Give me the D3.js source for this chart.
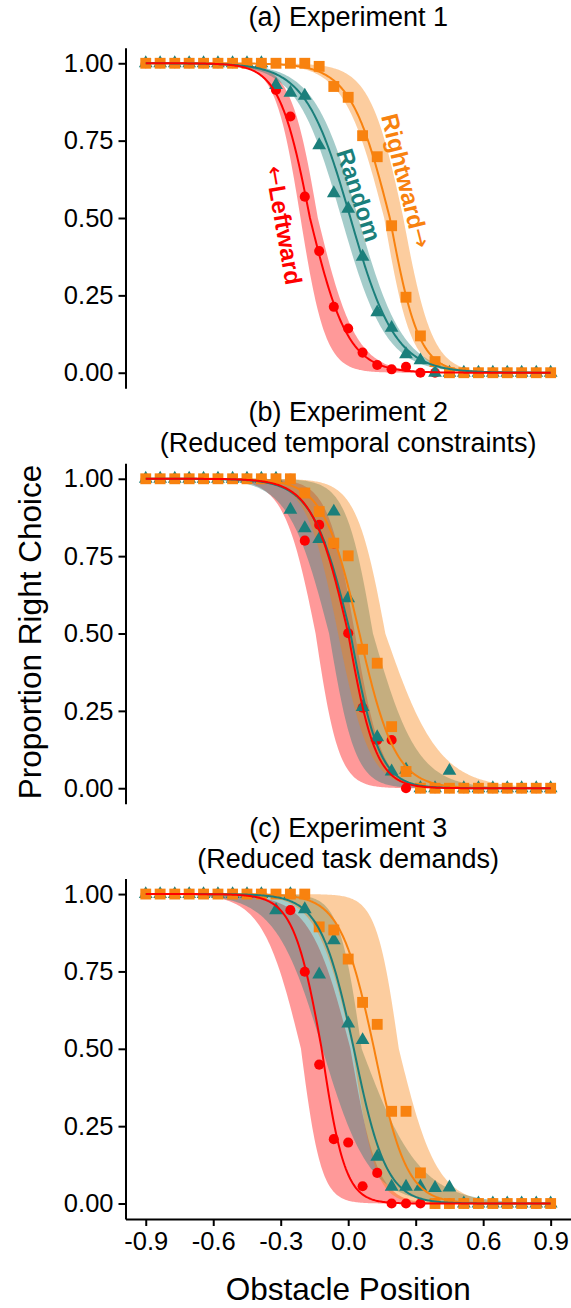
<!DOCTYPE html>
<html><head><meta charset="utf-8">
<script src="https://cdn.jsdelivr.net/npm/d3@7"></script>
<style>
body{margin:0;background:#fff}
svg{display:block}
text{font-family:"Liberation Sans",Arial,sans-serif;fill:#000}
</style>
</head><body><svg id="chart" width="571" height="1308"></svg>
<script>
// ---------- data ----------
const obstaclePositions = [-0.9,-0.836,-0.771,-0.707,-0.643,-0.579,-0.514,-0.45,-0.386,-0.321,-0.257,-0.193,-0.129,-0.064,0,0.064,0.129,0.193,0.257,0.321,0.386,0.45,0.514,0.579,0.643,0.707,0.771,0.836,0.9];
const conditions = ["Leftward","Random","Rightward"];
const panelTitles = [["(a) Experiment 1"],["(b) Experiment 2","(Reduced temporal constraints)"],["(c) Experiment 3","(Reduced task demands)"]];
const xTicks = [-0.9,-0.6,-0.3,0,0.3,0.6,0.9];
const yTicks = [0,0.25,0.5,0.75,1];

// observed proportions (per experiment, per condition)
const exp1Leftward  = [1,1,1,1,1,1,1,1,1,0.914,0.828,0.569,0.393,0.213,0.143,0.065,0.025,0.011,0.019,0,0,0,0,0,0,0,0,0,0];
const exp1Random    = [1,1,1,1,1,1,1,1,1,0.93,0.905,0.895,0.735,0.58,0.53,0.375,0.195,0.145,0.06,0.04,0,0,0,0,0,0,0,0,0];
const exp1Rightward = [1,1,1,1,1,1,1,1,1,1,1,1,0.99,0.925,0.89,0.766,0.698,0.475,0.244,0.119,0.036,0,0,0,0,0,0,0,0];
const exp2Leftward  = [1,1,1,1,1,1,1,1,1,1,1,0.80,0.851,0.79,0.501,0.26,0.156,0.156,0,0,0,0,0,0,0,0,0,0,0];
const exp2Random    = [1,1,1,1,1,1,1,1,1,1,0.90,0.84,0.805,0.894,0.614,0.262,0.165,0.054,0.06,0,0,0.056,0,0,0,0,0,0,0];
const exp2Rightward = [1,1,1,1,1,1,1,1,1,1,1,0.954,0.894,0.792,0.751,0.449,0.404,0.199,0.054,0,0,0,0,0,0,0,0,0,0];
const exp3Leftward  = [1,1,1,1,1,1,1,1,1,1,0.948,0.749,0.449,0.208,0.197,0.056,0.099,0,0,0,0,0,0,0,0,0,0,0,0];
const exp3Random    = [1,1,1,1,1,1,1,1,1,0.948,1,0.951,0.74,0.851,0.582,0.528,0.151,0.054,0.054,0.054,0.05,0.052,0,0,0,0,0,0,0];
const exp3Rightward = [1,1,1,1,1,1,1,1,1,1,1,1,0.894,0.884,0.79,0.65,0.579,0.298,0.298,0.099,0,0,0,0,0,0,0,0,0];

// fitted psychometric curves: [midpoint, scale above midpoint, scale below midpoint], one row per experiment
const fitLeftward  = [[-0.17,0.068,0.085],[0.0,0.08,0.062],[-0.118,0.063,0.052]];
const fitRandom    = [[0.01,0.1,0.1],[0.01,0.085,0.065],[0.025,0.075,0.072]];
const fitRightward = [[0.185,0.088,0.065],[0.05,0.08,0.08],[0.115,0.075,0.072]];
// confidence band edges
const bandLowLeftward   = [[-0.212,0.056,0.056],[-0.145,0.07,0.052],[-0.21,0.085,0.045]];
const bandHighLeftward  = [[-0.135,0.06,0.085],[0.03,0.06,0.06],[0.01,0.09,0.06]];
const bandLowRandom     = [[-0.03,0.1,0.1],[-0.085,0.09,0.058],[-0.115,0.105,0.105]];
const bandHighRandom    = [[0.045,0.1,0.1],[0.11,0.06,0.1],[0.06,0.05,0.13]];
const bandLowRightward  = [[0.16,0.09,0.06],[-0.045,0.07,0.07],[0.02,0.08,0.05]];
const bandHighRightward = [[0.245,0.075,0.065],[0.165,0.065,0.12],[0.225,0.05,0.085]];

// direction labels in panel (a): [arrow before, word, arrow after, x, y, angle]
const directionLabels = [["\u2190","Leftward","",-0.284,0.477,80],["","Random","",0.05,0.575,72],["","Rightward","\u2192",0.258,0.62,76]];

// ---------- setup ----------
const observed = [[exp1Leftward,exp1Random,exp1Rightward],[exp2Leftward,exp2Random,exp2Rightward],[exp3Leftward,exp3Random,exp3Rightward]];
const fits = [fitLeftward, fitRandom, fitRightward];
const bandLow = [bandLowLeftward, bandLowRandom, bandLowRightward];
const bandHigh = [bandHighLeftward, bandHighRandom, bandHighRightward];
const colors = {Leftward:"#ff0000", Random:"#1b7f7b", Rightward:"#f8820f"};
const symbols = {Leftward:d3.symbolCircle, Random:d3.symbolTriangle, Rightward:d3.symbolSquare};
const symbolSizes = {Leftward:80, Random:82, Rightward:118};

const svg = d3.select("#chart");
const x = d3.scaleLinear().domain([-0.99,0.99]).range([125.5,570.9]);
const panelTop = [47.8, 463.3, 878.6];
const panelH = 340.4;

function psych(p, v){ const s = v < p[0] ? p[1] : p[2]; return 1/(1+Math.exp((v-p[0])/s)); }
const grid = d3.range(-0.9, 0.90001, 0.005);
const fmtX = d => d3.format(".1f")(d).replace("\u2212","-");
const cx = (x.range()[0]+x.range()[1])/2;

panelTitles.forEach((title, pi) => {
  const y = d3.scaleLinear().domain([-0.05,1.05]).range([panelTop[pi]+panelH, panelTop[pi]]);
  const g = svg.append("g");

  // bands
  conditions.forEach((c, ci) => {
    const lo = bandLow[ci][pi], hi = bandHigh[ci][pi];
    const area = d3.area().x(d => x(d)).y0(d => y(Math.min(psych(lo,d),psych(hi,d)))).y1(d => y(Math.max(psych(lo,d),psych(hi,d))));
    g.append("path").attr("d", area(grid)).attr("fill", colors[c]).attr("fill-opacity", 0.4).attr("stroke","none");
  });
  // points
  conditions.forEach((c, ci) => {
    g.append("g").selectAll("path").data(observed[pi][ci]).join("path")
      .attr("transform", (d,i) => `translate(${x(obstaclePositions[i])},${y(d)})`)
      .attr("d", d3.symbol().type(symbols[c]).size(symbolSizes[c]))
      .attr("fill", colors[c]);
  });
  // fitted lines
  [2,1,0].forEach(ci => {
    const c = conditions[ci];
    const line = d3.line().x(d => x(d)).y(d => y(psych(fits[ci][pi], d)));
    g.append("path").attr("d", line(grid)).attr("fill","none").attr("stroke", colors[c]).attr("stroke-width", 2);
  });

  // y axis
  const ya = g.append("g").attr("transform", `translate(${x.range()[0]},0)`)
    .call(d3.axisLeft(y).tickValues(yTicks).tickFormat(d3.format(".2f")).tickSize(7).tickSizeOuter(0).tickPadding(5));
  ya.select(".domain").attr("stroke","#000").attr("stroke-width",2);
  ya.selectAll(".tick line").attr("stroke","#000").attr("stroke-width",2);
  ya.selectAll(".tick text").attr("font-size",25.5).attr("font-family","Liberation Sans, Arial, sans-serif").attr("fill","#000");

  // title
  const tt = svg.append("text").attr("text-anchor","middle").attr("font-size",27)
    .attr("x", cx).attr("y", title.length === 1 ? panelTop[pi] - 22 : panelTop[pi] - 42);
  title.forEach((t, k) => tt.append("tspan").attr("x", cx).attr("dy", k===0?0:31).text(t));

  if (pi === 0) {
    directionLabels.forEach((lab, li) => {
      const t = svg.append("text").attr("font-size",24).attr("font-weight","bold")
        .style("fill", colors[conditions[li]])
        .attr("text-anchor","middle").attr("dominant-baseline","central")
        .attr("transform", `translate(${x(lab[3])},${y(lab[4])}) rotate(${lab[5]})`);
      if (lab[0]) t.append("tspan").style("font-family","DejaVu Sans").attr("font-weight","normal").text(lab[0]);
      t.append("tspan").text(lab[1]);
      if (lab[2]) t.append("tspan").style("font-family","DejaVu Sans").attr("font-weight","normal").text(lab[2]);
    });
  }
  if (pi === 2) {
    const xa = g.append("g").attr("transform", `translate(0,${panelTop[pi]+panelH})`)
      .call(d3.axisBottom(x).tickValues(xTicks).tickFormat(fmtX).tickSize(7).tickSizeOuter(0).tickPadding(6));
    xa.select(".domain").attr("stroke","#000").attr("stroke-width",2);
    xa.selectAll(".tick line").attr("stroke","#000").attr("stroke-width",2);
    xa.selectAll(".tick text").attr("font-size",25.5).attr("font-family","Liberation Sans, Arial, sans-serif").attr("fill","#000");
  }
});

// axis titles
svg.append("text").attr("text-anchor","middle").attr("font-size",31.5)
  .attr("transform","translate(41,632) rotate(-90)").text("Proportion Right Choice");
svg.append("text").attr("text-anchor","middle").attr("font-size",31.5)
  .attr("x", cx).attr("y",1300).text("Obstacle Position");
</script>
</body></html>
